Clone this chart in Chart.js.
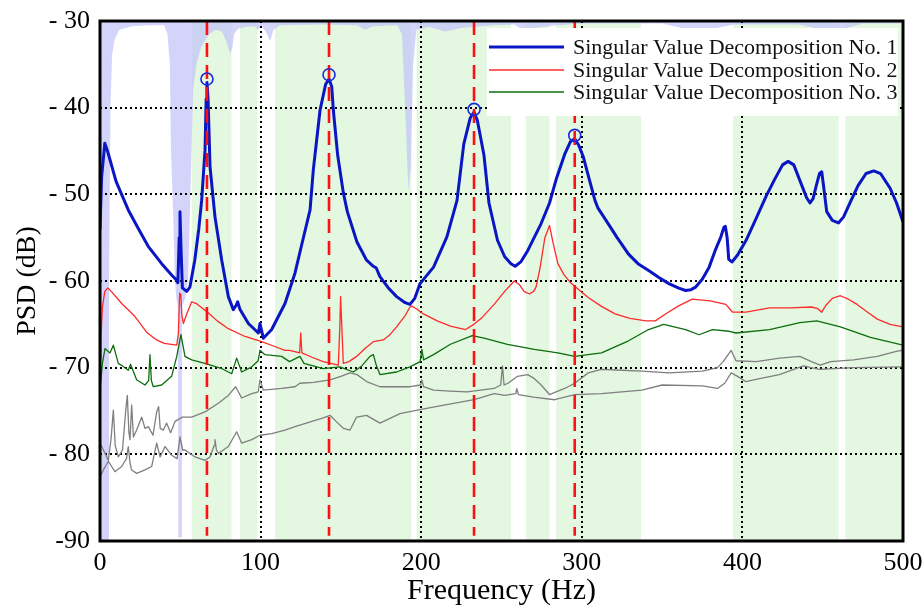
<!DOCTYPE html>
<html>
<head>
<meta charset="utf-8">
<script src="https://cdn.jsdelivr.net/npm/chart.js@4.4.1/dist/chart.umd.min.js"></script>
<style>
  html, body { margin: 0; padding: 0; background: #fff; }
  canvas { display: block; }
</style>
</head>
<body>
<canvas id="psd" width="922" height="609"></canvas>
<script>
// ---- data (Hz / dB) ----
const svd1Hz = [0,1,3,5,10,17.6,24,30,38.4,45,47.7,48.5,49.3,49.8,50.4,51.3,54,56,59,61.5,63.3,65.4,66.1,66.6,67.3,68.5,71.6,75.8,79.9,83,84.8,85.7,87.2,92.4,98.6,99.6,101.7,106.9,115.2,121.4,126,130.8,132.8,137,140.5,142.6,144.3,145.3,148,151.5,154,160,166,170.2,172,174.3,180,184.7,190,193,196,199.3,207.7,216,222.3,226.5,230.5,232.9,235,239.1,242.2,247.5,252,255.9,258.5,262,266.3,274.6,279.9,284,289.3,293,295.6,298,300.8,305,308.2,310.1,316.5,322,329.1,335,341.6,348,354.2,360,364.6,368,370.9,375,379.3,383,386.6,388.5,389.4,390.5,391.5,393.5,397,402.3,408,414.8,420,425,428.5,432,436,440,442.1,444,446,448,449.4,450.5,452.5,456,459.8,463,467.2,472,477,481.8,486,492,496,500];
const svd1Db = [-54,-48,-44.1,-45.2,-48.5,-51.8,-54,-56,-58,-59.4,-59.9,-60.2,-55,-52,-56,-60.8,-61.2,-60.7,-57.6,-54,-50.7,-44.9,-39,-37.1,-39,-46.8,-52.6,-57.6,-61.8,-63.3,-62.8,-62.4,-63.3,-64.9,-66,-64.9,-66.6,-65.6,-62.6,-59.1,-55.5,-51.8,-47.2,-40.3,-37.3,-36.7,-37.6,-40.3,-45.5,-49.8,-52,-55.5,-57.6,-58.3,-58.5,-59.5,-60.9,-61.8,-62.5,-62.7,-62,-60.3,-58.4,-54.9,-50.7,-44.2,-41.2,-40.5,-41.5,-45.5,-51,-55.3,-57.2,-58,-58.3,-57.8,-56.5,-53.4,-51,-48.3,-45.4,-43.9,-43.6,-44.3,-45.6,-48.5,-50.7,-51.6,-53.4,-55,-56.9,-58,-58.8,-59.6,-60.3,-60.8,-61.1,-61,-60.7,-59.8,-58.4,-56.5,-54.9,-53.8,-53.7,-55,-57.5,-57.8,-57,-55.3,-53,-50.2,-48.3,-46.6,-46.2,-46.6,-48.5,-50.4,-51,-50.5,-49,-47.6,-47.4,-49,-52,-53,-53.3,-52.6,-50.9,-49,-47.6,-47.3,-47.6,-49.3,-51,-53.2];

const svd2Hz = [0,0.6,1.5,3,4.8,7,13.5,21.8,29,33,35.3,40,47.8,48.8,49.6,50.3,51,51.9,54,57.1,60,67.5,73,79.9,90.3,100.7,108,115.2,118,124.3,125,125.7,132,139,148.4,149.4,149.8,150.5,151.5,155,159.8,165,170.2,176.4,180,184.7,190,193,194.2,197,201.4,210,218.2,227.6,232.8,238,245.4,252,257.9,261,264,267.4,270,271.5,274,277,279.9,282,285.1,289,293.5,304,312,320.7,330,340,345.8,352.1,360,368.8,380,389.7,393.9,402.3,416.9,430,443,447,449.4,452,456,461,466,471.4,478,484,492,500];
const svd2Db = [-69,-66.5,-63,-61.2,-60.8,-61.2,-62.6,-64.1,-65.9,-66.5,-66.8,-67.2,-67.4,-66,-61.4,-61.6,-64,-64.9,-63.8,-62.4,-62.6,-63.7,-64.6,-65.5,-66.4,-67,-67.5,-68,-68,-68.3,-66,-68.3,-68.8,-69.3,-69.7,-65,-61.8,-65,-69.5,-69.3,-68.7,-67.8,-67,-66.8,-66.3,-65.3,-64,-63,-62.9,-63.2,-63.8,-64.6,-65.2,-65.6,-65,-64.2,-62.7,-61.2,-60,-60.4,-61.2,-61.5,-61.2,-60.7,-58.5,-55,-53.6,-55.5,-58,-59.3,-60.3,-61.9,-62.9,-63.8,-64.3,-64.6,-64.6,-63.8,-62.9,-62.1,-62.3,-62.7,-63.6,-63.6,-63.1,-63.1,-63,-63.2,-63.6,-62.8,-62,-61.7,-62.1,-62.7,-63.6,-64.4,-65,-65.3];

const svd3Hz = [0,1.5,3.1,6.2,8.3,11.4,14,17.6,19,22.8,28,30.3,31.1,32,33.2,38.4,44.6,47.8,50.4,52.9,57.1,65.4,75.8,82,85.1,88.2,94.5,98.5,99.6,102.7,113.1,118,124.5,127,139,149.4,157.7,163,168.1,170.2,172,174.3,184.7,193,199.4,200.4,201.5,207.7,218.2,231.8,239.1,253.7,270.5,285.1,295.6,312.3,329.1,341.6,351,364.6,373,381.4,391.8,396,416.9,435.8,446.3,461,479.7,500];
const svd3Db = [-72.6,-69.5,-67.8,-68.3,-67.4,-69.5,-69.8,-70.3,-69.6,-71.4,-72,-71.5,-68.5,-71.5,-72.2,-72,-71,-68.7,-66.2,-68.7,-69.1,-69.5,-70.1,-70.7,-68.9,-70.5,-69.9,-69.2,-68,-68.5,-68.7,-69.3,-68.7,-69.5,-70.1,-69.9,-70.5,-69.8,-68.7,-68.5,-69.7,-70.8,-70.5,-69.9,-69.3,-67.9,-69.1,-68.5,-67.3,-66.3,-66.6,-67.3,-67.9,-68.3,-68.7,-68.3,-66.9,-65.6,-65,-65.6,-66.2,-65.6,-65.8,-66,-65.6,-64.8,-64.6,-65.3,-66.5,-67.4];

const svd4Hz = [0,2.1,5.2,7,8.3,9.5,11.4,14,16,17,18,18.7,19.7,20.8,22.8,26,28,30.1,33,35.3,36.5,37.5,39.4,41.5,44,46.7,51.3,57.1,65.4,73.7,79.9,84.5,88.2,94.5,98.5,99.6,101.7,113.1,121.4,124.5,133,143.2,150,155.7,160,166,174.3,186.8,193,199.6,200.4,201.5,207.7,218,228.6,245.4,249.5,250.6,251.6,254,260,266.3,270,274.7,279.9,284,289.3,295.6,304,312.3,325,337.4,354.2,375.1,384.5,388,393,396,408.6,423.2,435.8,443,448.4,455,469.2,484,496.4,500];
const svd4Db = [-78.7,-79.5,-80.7,-78,-74.9,-79,-80.3,-79.5,-75,-73.2,-77.5,-78.3,-74.3,-78,-77.2,-75.7,-77,-76.8,-77.8,-75.1,-74.5,-77,-77.2,-76.4,-77.5,-76.2,-75.7,-75.7,-75.1,-74.1,-73.2,-72.2,-73.5,-73,-72.8,-71.4,-72.6,-72.4,-72.2,-71.8,-71.7,-71.4,-71,-70.6,-70.8,-71.6,-72.2,-72.2,-72.2,-72,-71.4,-72.2,-72.6,-72.7,-72.8,-72.4,-72,-69.8,-72,-71.8,-71,-70.8,-71.2,-72,-73.1,-72.8,-72.4,-71.8,-70.6,-70.2,-70.3,-70.4,-70.6,-70.4,-70,-69.3,-68,-69.2,-69.3,-68.9,-68.7,-69.3,-69.7,-69.3,-69.1,-68.7,-68.1,-68];

const svd5Hz = [0,2.1,5.2,9.3,13.5,16.5,17.6,18.7,19.7,22.8,28,32.2,35.3,37.4,40.5,44.6,48,49.8,51.5,52.9,59.2,65.4,68.5,71,71.6,72.5,73.7,79.9,85.1,88.2,94.5,99.6,106.9,115.2,121.4,130,139,143.2,147,151.5,155.7,159.8,166,174.3,186.8,200,215,232.9,245.4,252,258.9,259.5,260.5,270,283.1,295.6,312.3,337.4,350,375.1,384.5,389,393,397,402,410,423,438,448,469,500];
const svd5Db = [-82.6,-81.8,-80.8,-82,-81.4,-80.5,-79.1,-81,-81.8,-82.2,-81.8,-81.4,-78.7,-80.3,-79.1,-80.1,-80.5,-78,-79.5,-79.5,-80.3,-80.7,-80.3,-79,-78.3,-79.5,-79.9,-79.1,-77.4,-78.7,-78.3,-77.8,-77.6,-77.2,-76.8,-76.3,-75.8,-75.5,-76.2,-77,-77.2,-75.7,-75.5,-76.4,-75.3,-74.8,-74.3,-73.7,-73,-73.2,-73,-72.4,-73.1,-73.4,-73.7,-73.1,-73,-72.6,-72,-72.1,-72.4,-71.8,-70.6,-71,-71.6,-71.3,-70.8,-69.8,-70.2,-70,-69.9];

// lower edge of the lavender shading that hangs from the top of the plot
const shadeHz = [0,5,5.6,6.5,7.5,9,12,20,30,40,42,43.5,44.2,45.5,46.7,47.5,48.5,48.8,50.8,51,53,54.8,56,57,58,60,63,68,72,76,79,81,82.5,83.5,86,90,96,98.5,100.5,104,106,108,112,140,160,165,170,185,188,190,192,193.5,195,197,205,215,225,245,258,262,270,285,300,350,362,372,384,395,435,445,455,465,475,500];
const shadeDb = [-90,-90,-60,-40,-34,-32.2,-31,-30.6,-30.5,-30.5,-31.5,-35,-45,-52,-60,-62,-63,-89.6,-89.6,-63,-62,-60,-52,-45,-38,-35,-33,-31.5,-31,-31.2,-32.5,-33.8,-33,-31.5,-30.9,-30.7,-30.6,-31,-30.5,-31.5,-32.3,-31,-30.5,-30.4,-30.5,-31,-30.6,-30.5,-31.5,-40,-49.5,-47,-35,-31,-30.7,-31.2,-30.8,-30.5,-30.4,-30.9,-30.8,-30.5,-30.3,-30.3,-30.8,-31.1,-30.8,-30.4,-30.4,-30.8,-31,-30.8,-30.3,-30.3];

// light green frequency bands [start, end] in Hz
const bandStart = [57,87,109,197,265,284,394,464];
const bandEnd   = [82,98,194,256,280,337,460,500];

// identified peaks
const peakHz = [66.6,142.6,232.9,295.6];
const peakDb = [-36.7,-36.2,-40.2,-43.2];

const xTicks = [0,100,200,300,400,500];
const yTicks = [-90,-80,-70,-60,-50,-40,-30];

const legendLabels = [
  'Singular Value Decomposition No. 1',
  'Singular Value Decomposition No. 2',
  'Singular Value Decomposition No. 3'
];

const pts = (xs, ys) => xs.map((x, i) => ({ x: x, y: ys[i] }));

function bandPoints() {
  const out = [];
  bandStart.forEach((a, i) => {
    out.push({ x: a, y: -90 }, { x: bandEnd[i], y: -90 });
    if (i < bandStart.length - 1) out.push({ x: (bandEnd[i] + bandStart[i + 1]) / 2, y: null });
  });
  return out;
}

const lineBase = { pointRadius: 0, fill: false, tension: 0, borderJoinStyle: 'round' };

const datasets = [
  {
    label: 'peaks', data: pts(peakHz, peakDb), showLine: false,
    pointRadius: 6, pointStyle: 'circle', pointBorderColor: '#1a2ad8',
    pointBackgroundColor: 'rgba(0,0,0,0)', pointBorderWidth: 1.6
  }
];
peakHz.forEach(f => {
  datasets.push(Object.assign({}, lineBase, {
    label: 'mode', data: [{ x: f, y: -30 }, { x: f, y: -89.4 }],
    borderColor: '#ff1010', borderWidth: 2.6, borderDash: [14, 8]
  }));
});
datasets.push(
  Object.assign({}, lineBase, { label: legendLabels[0], data: pts(svd1Hz, svd1Db), borderColor: '#0a16c4', borderWidth: 3 }),
  Object.assign({}, lineBase, { label: legendLabels[1], data: pts(svd2Hz, svd2Db), borderColor: '#ff2a2a', borderWidth: 1.3 }),
  Object.assign({}, lineBase, { label: legendLabels[2], data: pts(svd3Hz, svd3Db), borderColor: '#0c6e0c', borderWidth: 1.3 }),
  Object.assign({}, lineBase, { label: 'No. 4', data: pts(svd4Hz, svd4Db), borderColor: '#7f7f7f', borderWidth: 1.3 }),
  Object.assign({}, lineBase, { label: 'No. 5', data: pts(svd5Hz, svd5Db), borderColor: '#7f7f7f', borderWidth: 1.3 }),
  Object.assign({}, lineBase, { label: 'shade', data: pts(shadeHz, shadeDb), borderWidth: 0, borderColor: 'rgba(0,0,0,0)',
    fill: 'end', backgroundColor: 'rgba(196,196,248,0.72)' }),
  Object.assign({}, lineBase, { label: 'bands', data: bandPoints(), spanGaps: false, borderWidth: 0, borderColor: 'rgba(0,0,0,0)',
    fill: 'end', backgroundColor: '#e3f7e1' })
);

const frameAndLegend = {
  id: 'frameAndLegend',
  afterDraw(chart) {
    const ctx = chart.ctx;
    const a = chart.chartArea;
    ctx.save();
    ctx.strokeStyle = '#000';
    ctx.lineWidth = 3;
    ctx.strokeRect(a.left, a.top, a.right - a.left, a.bottom - a.top);

    // legend box
    const lx = 487, ly = 28, lw = 411, lh = 88;
    ctx.fillStyle = '#fff';
    ctx.fillRect(lx, ly, lw, lh);
    ctx.font = '22px "Liberation Serif", "Times New Roman", serif';
    ctx.textBaseline = 'middle';
    ctx.textAlign = 'left';
    const rows = [47, 70, 92];
    legendLabels.forEach((lab, i) => {
      const ds = chart.data.datasets.find(d => d.label === lab);
      ctx.strokeStyle = ds.borderColor;
      ctx.lineWidth = ds.borderWidth;
      ctx.beginPath();
      ctx.moveTo(489, rows[i]);
      ctx.lineTo(564, rows[i]);
      ctx.stroke();
      ctx.fillStyle = '#111';
      ctx.fillText(lab, 573, rows[i] + 1);
    });
    ctx.restore();
  }
};

new Chart(document.getElementById('psd'), {
  type: 'line',
  data: { datasets: datasets },
  plugins: [frameAndLegend],
  options: {
    responsive: false,
    animation: false,
    devicePixelRatio: 1,
    layout: { padding: { top: 21, right: 19, left: 0, bottom: 0 } },
    plugins: {
      legend: { display: false },
      tooltip: { enabled: false },
      filler: { drawTime: 'beforeDraw' }
    },
    scales: {
      x: {
        type: 'linear', min: 0, max: 500,
        afterFit: s => { s.height = 68; s.paddingLeft = 0; s.paddingRight = 0; },
        afterBuildTicks: s => { s.ticks = xTicks.map(v => ({ value: v })); },
        grid: { color: '#000', lineWidth: 2, drawTicks: false },
        border: { display: false, dash: [2, 3] },
        ticks: { color: '#000', padding: 7, maxRotation: 0,
          font: { family: '"Liberation Serif", serif', size: 26 } },
        title: { display: true, text: 'Frequency (Hz)', color: '#000',
          padding: { top: 0, bottom: 0 },
          font: { family: '"Liberation Serif", serif', size: 30 } }
      },
      y: {
        type: 'linear', min: -90, max: -30,
        afterFit: s => { s.width = 100; s.paddingTop = 0; s.paddingBottom = 0; },
        afterBuildTicks: s => { s.ticks = yTicks.map(v => ({ value: v })); },
        grid: { color: '#000', lineWidth: 2, drawTicks: false },
        border: { display: false, dash: [2, 3] },
        ticks: { color: '#000', padding: 10,
          callback: v => (v === -90 ? '-90' : '- ' + Math.abs(v)),
          font: { family: '"Liberation Serif", serif', size: 26 } },
        title: { display: true, text: 'PSD (dB)', color: '#000',
          padding: { top: 11, bottom: 0 },
          font: { family: '"Liberation Serif", serif', size: 28 } }
      }
    }
  }
});
</script>
</body>
</html>
